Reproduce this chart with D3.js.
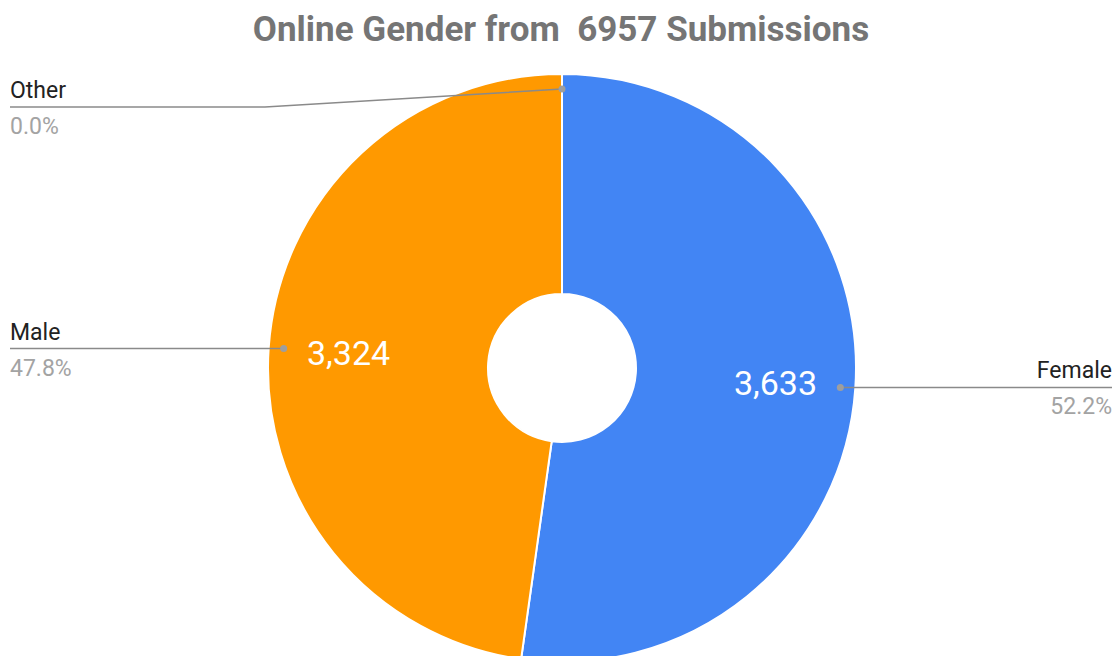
<!DOCTYPE html>
<html><head><meta charset="utf-8">
<script src="https://cdn.jsdelivr.net/npm/d3@7"></script>
<style>
html,body{margin:0;padding:0;background:#fff;}
svg{display:block;font-family:Roboto,"Noto Sans",sans-serif;}
</style></head>
<body>
<svg id="chart" width="1120" height="656"></svg>
<script>
// ---- data ----
const titleText = "Online Gender from  6957 Submissions";
const categories = ["Female", "Male", "Other"];
const values = [3633, 3324, 0];
const colors = ["#4285F4", "#FF9900", "#DB4437"];

// ---- layout ----
const W = 1120, H = 656;
const cx = 562, cy = 368;
const outerR = 294, innerR = 74;
const dotR = 279, valueR = 214;
const svg = d3.select("#chart");

svg.append("text")
  .attr("x", 561).attr("y", 41)
  .attr("text-anchor", "middle")
  .style("white-space", "pre")
  .attr("font-size", 35).attr("font-weight", 700)
  .attr("fill", "#757575")
  .text(titleText);

const total = d3.sum(values);
const data = categories.map((c, i) => ({name: c, value: values[i], color: colors[i]}));
const pie = d3.pie().sort(null).value(d => d.value).startAngle(0).endAngle(2 * Math.PI);
const arcs = pie(data);
const arc = d3.arc().innerRadius(innerR).outerRadius(outerR);
const dotArc = d3.arc().innerRadius(dotR).outerRadius(dotR);
const valArc = d3.arc().innerRadius(valueR).outerRadius(valueR);

const g = svg.append("g").attr("transform", `translate(${cx},${cy})`);
g.selectAll("path.slice").data(arcs.filter(a => a.value > 0)).join("path")
  .attr("class", "slice")
  .attr("d", arc)
  .attr("fill", d => d.data.color)
  .attr("stroke", "#fff").attr("stroke-width", 2);

g.selectAll("text.val").data(arcs.filter(a => a.value > 0)).join("text")
  .attr("class", "val")
  .attr("x", d => valArc.centroid(d)[0])
  .attr("y", d => valArc.centroid(d)[1])
  .attr("dy", "0.36em")
  .attr("text-anchor", "middle")
  .attr("font-size", 34).attr("fill", "#fff")
  .text(d => d3.format(",")(d.value));

// leader lines & labels
const fmtPct = v => (v / total * 100).toFixed(1) + "%";
const labelG = svg.append("g");
arcs.forEach(d => {
  const [dx, dy] = dotArc.centroid(d);
  const px = cx + dx, py = cy + dy;
  const right = dx > 0.5;
  const ly = Math.max(py, 107);
  const endX = right ? 1112 : 10;
  let pts;
  if (ly > py + 1) {
    const bendX = right ? 860 : 265;
    pts = [[px, py], [bendX, ly], [endX, ly]];
  } else {
    pts = [[px, py], [endX, ly]];
  }
  labelG.append("path")
    .attr("d", d3.line()(pts))
    .attr("fill", "none").attr("stroke", "#8a8a8a").attr("stroke-width", 1.5);
  labelG.append("circle").attr("cx", px).attr("cy", py).attr("r", 3.5).attr("fill", "#9e9e9e");
  labelG.append("text")
    .attr("x", endX).attr("y", ly - 9)
    .attr("text-anchor", right ? "end" : "start")
    .attr("font-size", 23).attr("fill", "#222")
    .text(d.data.name);
  labelG.append("text")
    .attr("x", endX).attr("y", ly + 27)
    .attr("text-anchor", right ? "end" : "start")
    .attr("font-size", 23).attr("fill", "#a3a3a3")
    .text(fmtPct(d.value));
});
</script>
</body></html>
